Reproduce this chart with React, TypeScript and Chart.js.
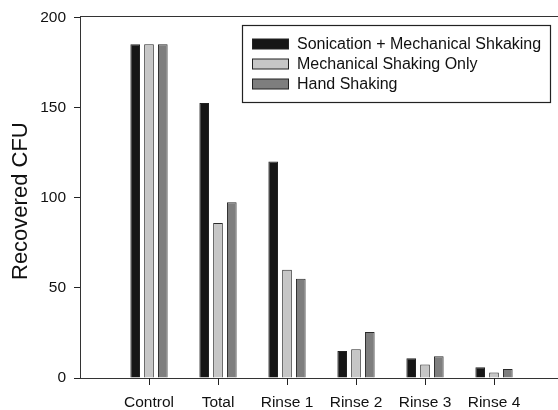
import React, { useEffect, useRef } from "react";
import { Chart, registerables } from "chart.js";

Chart.register(...registerables);

const categories = ["Control", "Total", "Rinse 1", "Rinse 2", "Rinse 3", "Rinse 4"];
const sonication = [185, 152.5, 120, 15, 11, 6];
const mechanical = [185, 86, 60, 16, 7.5, 3];
const hand = [185, 97.5, 55, 25.5, 12, 5];
const seriesLabels = ["Sonication + Mechanical Shkaking", "Mechanical Shaking Only", "Hand Shaking"];
const yTicks = [0, 50, 100, 150, 200];
const yTitle = "Recovered CFU";

const FONT = "'Liberation Sans', Arial, Helvetica, sans-serif";

const frameAndLegend = {
  id: "frameAndLegend",
  afterDraw(chart: any) {
    const { ctx, chartArea } = chart;
    ctx.save();
    // top frame line
    ctx.strokeStyle = "#333";
    ctx.lineWidth = 1;
    ctx.beginPath();
    const ty = Math.round(chartArea.top) - 0.5;
    ctx.moveTo(chartArea.left, ty);
    ctx.lineTo(chartArea.right, ty);
    ctx.stroke();

    // x tick marks at category centres
    const xs = chart.scales.x;
    ctx.strokeStyle = "#222";
    ctx.lineWidth = 1;
    ctx.beginPath();
    for (let i = 1; i < chart.data.labels.length - 1; i++) {
      const x = Math.round(xs.getPixelForTick(i)) + 0.5;
      ctx.moveTo(x, chartArea.bottom);
      ctx.lineTo(x, chartArea.bottom + 7);
    }
    ctx.stroke();

    // y axis title
    ctx.save();
    ctx.translate(27, (chartArea.top + chartArea.bottom) / 2 + 3.5);
    ctx.rotate(-Math.PI / 2);
    ctx.font = `22px ${FONT}`;
    ctx.fillStyle = "#111";
    ctx.textAlign = "center";
    ctx.textBaseline = "alphabetic";
    ctx.fillText(yTitle, 0, 0);
    ctx.restore();

    // legend box
    const bx = 242.5, by = 25.5, bw = 308, bh = 77;
    ctx.fillStyle = "#fff";
    ctx.fillRect(bx, by, bw, bh);
    ctx.strokeStyle = "#222";
    ctx.lineWidth = 1.2;
    ctx.strokeRect(bx, by, bw, bh);
    ctx.font = `16px ${FONT}`;
    ctx.textBaseline = "middle";
    ctx.textAlign = "left";
    chart.data.datasets.forEach((ds: any, i: number) => {
      const cy = 44 + i * 20;
      ctx.fillStyle = ds.backgroundColor;
      ctx.fillRect(252.5, cy - 5, 36, 10);
      ctx.strokeStyle = "#222";
      ctx.lineWidth = 1;
      ctx.strokeRect(252.5, cy - 5, 36, 10);
      ctx.fillStyle = "#111";
      ctx.fillText(ds.label, 297, cy + 1);
    });
    ctx.restore();
  },
};

export default function App() {
  const ref = useRef<HTMLCanvasElement>(null);
  useEffect(() => {
    if (!ref.current) return;
    const labels = ["", ...categories, ""];
    const pad = (arr: number[]) => [null, ...arr, null];
    const chart = new Chart(ref.current, {
      type: "bar",
      data: {
        labels,
        datasets: [
          { label: seriesLabels[0], data: pad(sonication), backgroundColor: "#161616", borderColor: "#222", borderWidth: 1 },
          { label: seriesLabels[1], data: pad(mechanical), backgroundColor: "#c6c6c6", borderColor: "#2a2a2a", borderWidth: 1 },
          { label: seriesLabels[2], data: pad(hand), backgroundColor: "#7e7e7e", borderColor: "#2a2a2a", borderWidth: 1 },
        ] as any,
      },
      options: {
        animation: false,
        responsive: false,
        devicePixelRatio: 1,
        layout: { padding: { left: 0, top: 16, right: 7, bottom: 0 } },
        datasets: { bar: { categoryPercentage: 0.6, barPercentage: 0.7 } },
        plugins: { legend: { display: false }, tooltip: { enabled: false } },
        scales: {
          x: {
            offset: false,
            grid: { display: false },
            border: { display: true, color: "#333", width: 1 },
            ticks: { color: "#111", font: { family: FONT, size: 15.5 }, padding: 7, maxRotation: 0, autoSkip: false },
            afterFit: (s: any) => { s.height = 32; },
          },
          y: {
            min: 0,
            max: 200,
            afterBuildTicks: (s: any) => { s.ticks = yTicks.map((v) => ({ value: v })); },
            grid: { display: true, drawOnChartArea: false, drawTicks: true, tickLength: 6, tickColor: "#222" },
            border: { display: true, color: "#333", width: 1 },
            ticks: { color: "#111", font: { family: FONT, size: 15.5 }, padding: 8 },
            title: { display: false },
            afterFit: (s: any) => { s.width = 80; },
          },
        },
      },
      plugins: [frameAndLegend],
    });
    return () => chart.destroy();
  }, []);
  return (
    <div style={{ position: "fixed", left: 0, top: 0, width: 558, height: 410, overflow: "hidden", background: "#fff" }}>
      <canvas ref={ref} width={570} height={410} style={{ width: 570, height: 410, display: "block" }} />
    </div>
  );
}
